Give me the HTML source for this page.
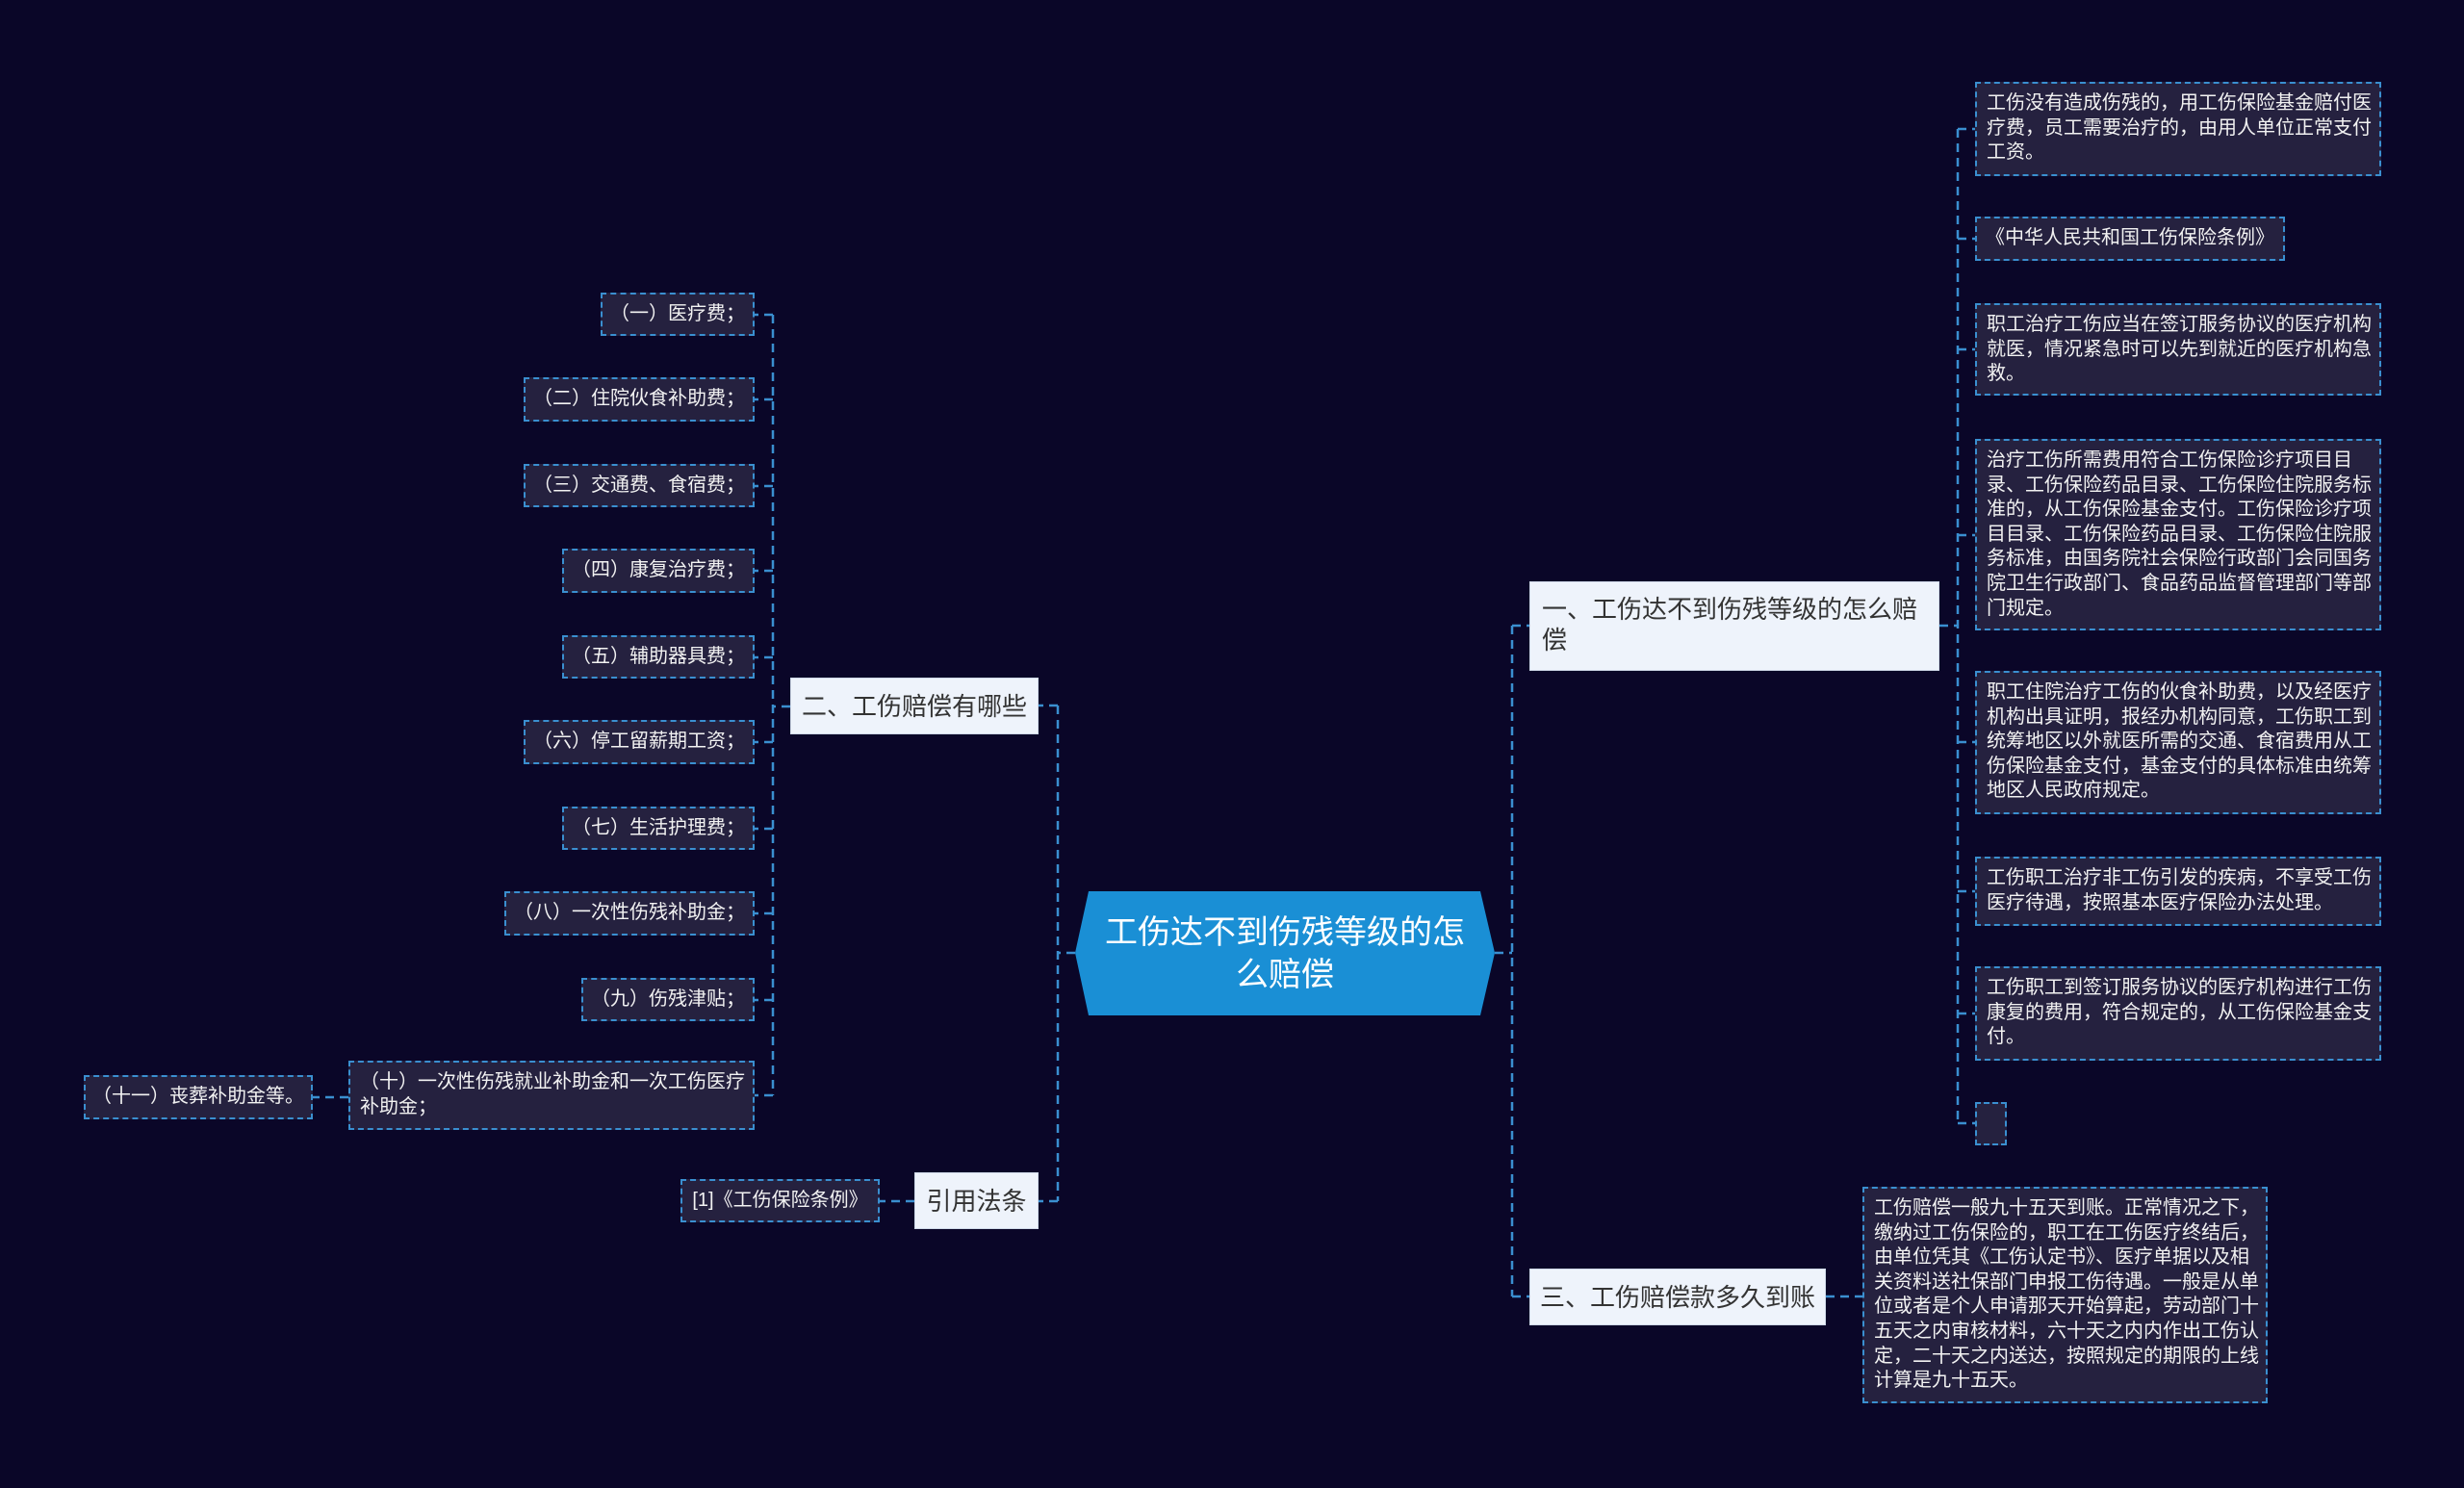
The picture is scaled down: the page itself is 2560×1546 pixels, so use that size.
<!DOCTYPE html>
<html><head><meta charset="utf-8"><style>
html,body{margin:0;padding:0;}
body{width:2560px;height:1546px;background:#0a0628;position:relative;overflow:hidden;font-family:"Liberation Sans","Noto Sans CJK SC",sans-serif;}
.lf{position:absolute;box-sizing:border-box;background:#25213f;border:2px dashed #3a8fd0;color:#f2f2f2;font-size:20px;line-height:25.6px;}
.l1{position:absolute;box-sizing:border-box;background:#eef3fb;border:1px solid #cfd9e8;color:#333;font-size:26px;line-height:32px;padding:0 12px;}
.c{display:flex;align-items:center;justify-content:center;white-space:nowrap;}
.t{padding:8px 2px 0 10px;}
svg{position:absolute;left:0;top:0;}
</style></head><body>
<svg width="2560" height="1546">
<g stroke="#3a8fd0" stroke-width="2.5" stroke-dasharray="9,6" fill="none">
<path d="M1117 990 H1099 M1099 733 V1248 M1099 733 H1079 M1099 1248 H1079"/>
<path d="M821 734 H803 M803 327 V1138"/>
<path d="M803 327 H784 M803 415 H784 M803 505 H784 M803 593 H784 M803 683 H784 M803 771 H784 M803 861 H784 M803 949 H784 M803 1039 H784 M803 1138 H784"/>
<path d="M362 1140 H325"/>
<path d="M950 1248 H914"/>
<path d="M1553 990 H1571 M1571 650 V1347 M1571 650 H1589 M1571 1347 H1589"/>
<path d="M2015 650 H2034 M2034 134 V1167"/>
<path d="M2034 134 H2052 M2034 248 H2052 M2034 363 H2052 M2034 556 H2052 M2034 771 H2052 M2034 926 H2052 M2034 1053 H2052 M2034 1167 H2052"/>
<path d="M1897 1347 H1935"/>
</g>
<polygon points="1131,926 1538,926 1553,990 1538,1055 1131,1055 1117,990" fill="#1a8fd5"/>
</svg>
<div class="c" style="position:absolute;left:1117px;top:926px;width:436px;height:129px;color:#fff;font-size:34px;line-height:44px;white-space:normal;text-align:center;padding:0 20px;box-sizing:border-box;">工伤达不到伤残等级的怎么赔偿</div>

<div class="l1" style="left:1589px;top:604px;width:426px;height:93px;padding-top:12px;">一、工伤达不到伤残等级的怎么赔偿</div>
<div class="l1 c" style="left:1589px;top:1318px;width:308px;height:59px;">三、工伤赔偿款多久到账</div>
<div class="l1 c" style="left:821px;top:704px;width:258px;height:59px;">二、工伤赔偿有哪些</div>
<div class="l1 c" style="left:950px;top:1218px;width:129px;height:59px;">引用法条</div>

<div class="lf c" style="left:624px;top:304px;width:160px;height:45px;">（一）医疗费；</div>
<div class="lf c" style="left:544px;top:392px;width:240px;height:46px;">（二）住院伙食补助费；</div>
<div class="lf c" style="left:544px;top:482px;width:240px;height:45px;">（三）交通费、食宿费；</div>
<div class="lf c" style="left:584px;top:570px;width:200px;height:46px;">（四）康复治疗费；</div>
<div class="lf c" style="left:584px;top:660px;width:200px;height:45px;">（五）辅助器具费；</div>
<div class="lf c" style="left:544px;top:748px;width:240px;height:46px;">（六）停工留薪期工资；</div>
<div class="lf c" style="left:584px;top:838px;width:200px;height:45px;">（七）生活护理费；</div>
<div class="lf c" style="left:524px;top:926px;width:260px;height:46px;">（八）一次性伤残补助金；</div>
<div class="lf c" style="left:604px;top:1016px;width:180px;height:45px;">（九）伤残津贴；</div>
<div class="lf t" style="left:362px;top:1102px;width:422px;height:72px;">（十）一次性伤残就业补助金和一次工伤医疗补助金；</div>
<div class="lf c" style="left:87px;top:1117px;width:238px;height:46px;">（十一）丧葬补助金等。</div>
<div class="lf c" style="left:707px;top:1225px;width:207px;height:45px;">[1]《工伤保险条例》</div>

<div class="lf t" style="left:2052px;top:85px;width:422px;height:98px;">工伤没有造成伤残的，用工伤保险基金赔付医疗费，员工需要治疗的，由用人单位正常支付工资。</div>
<div class="lf c" style="left:2052px;top:225px;width:322px;height:46px;">《中华人民共和国工伤保险条例》</div>
<div class="lf t" style="left:2052px;top:315px;width:422px;height:96px;">职工治疗工伤应当在签订服务协议的医疗机构就医，情况紧急时可以先到就近的医疗机构急救。</div>
<div class="lf t" style="left:2052px;top:456px;width:422px;height:199px;">治疗工伤所需费用符合工伤保险诊疗项目目录、工伤保险药品目录、工伤保险住院服务标准的，从工伤保险基金支付。工伤保险诊疗项目目录、工伤保险药品目录、工伤保险住院服务标准，由国务院社会保险行政部门会同国务院卫生行政部门、食品药品监督管理部门等部门规定。</div>
<div class="lf t" style="left:2052px;top:697px;width:422px;height:149px;">职工住院治疗工伤的伙食补助费，以及经医疗机构出具证明，报经办机构同意，工伤职工到统筹地区以外就医所需的交通、食宿费用从工伤保险基金支付，基金支付的具体标准由统筹地区人民政府规定。</div>
<div class="lf t" style="left:2052px;top:890px;width:422px;height:72px;">工伤职工治疗非工伤引发的疾病，不享受工伤医疗待遇，按照基本医疗保险办法处理。</div>
<div class="lf t" style="left:2052px;top:1004px;width:422px;height:98px;">工伤职工到签订服务协议的医疗机构进行工伤康复的费用，符合规定的，从工伤保险基金支付。</div>
<div class="lf" style="left:2052px;top:1145px;width:33px;height:45px;"></div>
<div class="lf t" style="left:1935px;top:1233px;width:421px;height:225px;">工伤赔偿一般九十五天到账。正常情况之下，缴纳过工伤保险的，职工在工伤医疗终结后，由单位凭其《工伤认定书》、医疗单据以及相关资料送社保部门申报工伤待遇。一般是从单位或者是个人申请那天开始算起，劳动部门十五天之内审核材料，六十天之内内作出工伤认定，二十天之内送达，按照规定的期限的上线计算是九十五天。</div>
</body></html>
